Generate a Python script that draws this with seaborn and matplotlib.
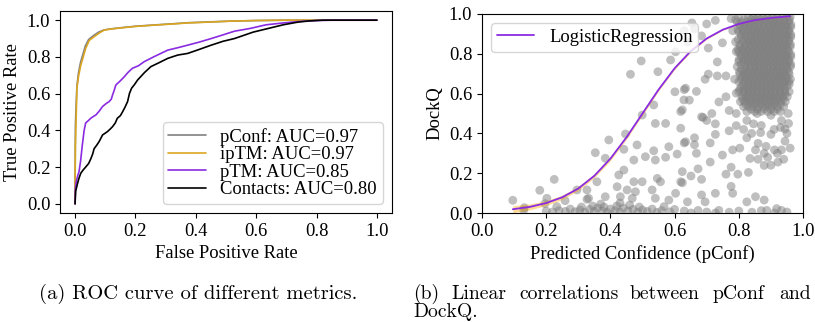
import matplotlib
matplotlib.use("Agg")
import matplotlib.pyplot as plt
import seaborn as sns
import pandas as pd

# ---------------- ROC data ----------------
pconf_fpr = [0, 0.0, 0.001, 0.003, 0.006, 0.011, 0.018, 0.026, 0.034, 0.045, 0.06, 0.078, 0.096, 0.12, 0.152, 0.2, 0.262, 0.32, 0.372, 0.45, 0.517, 0.6, 0.7, 0.8, 1.0]
pconf_tpr = [0, 0.12, 0.42, 0.52, 0.64, 0.71, 0.77, 0.815, 0.86, 0.895, 0.915, 0.935, 0.947, 0.953, 0.959, 0.967, 0.974, 0.98, 0.986, 0.991, 0.995, 0.998, 1.0, 1.0, 1.0]
iptm_fpr = [0, 0.0, 0.001, 0.004, 0.006, 0.012, 0.019, 0.027, 0.035, 0.047, 0.063, 0.08, 0.096, 0.12, 0.152, 0.2, 0.262, 0.32, 0.372, 0.45, 0.517, 0.6, 0.7, 0.8, 1.0]
iptm_tpr = [0, 0.10, 0.32, 0.5, 0.63, 0.70, 0.755, 0.80, 0.846, 0.89, 0.91, 0.93, 0.946, 0.952, 0.958, 0.966, 0.973, 0.979, 0.985, 0.99, 0.995, 0.998, 1.0, 1.0, 1.0]
ptm_fpr = [0, 0.001, 0.004, 0.008, 0.013, 0.018, 0.024, 0.03, 0.035, 0.045, 0.052, 0.06, 0.069, 0.08, 0.091, 0.102, 0.113, 0.12, 0.124, 0.13, 0.135, 0.15, 0.163, 0.175, 0.19, 0.21, 0.229, 0.26, 0.307, 0.34, 0.373, 0.41, 0.451, 0.49, 0.528, 0.58, 0.633, 0.69, 0.744, 0.8, 0.85, 1.0]
ptm_tpr = [0, 0.08, 0.12, 0.15, 0.175, 0.23, 0.32, 0.40, 0.44, 0.455, 0.466, 0.475, 0.484, 0.505, 0.53, 0.545, 0.557, 0.57, 0.592, 0.62, 0.647, 0.67, 0.692, 0.715, 0.738, 0.752, 0.774, 0.80, 0.837, 0.85, 0.864, 0.88, 0.90, 0.92, 0.94, 0.955, 0.975, 0.985, 0.993, 0.998, 1.0, 1.0]
cont_fpr = [0, 0.001, 0.002, 0.005, 0.008, 0.013, 0.019, 0.027, 0.035, 0.045, 0.052, 0.058, 0.063, 0.072, 0.08, 0.091, 0.1, 0.107, 0.115, 0.124, 0.133, 0.14, 0.15, 0.157, 0.165, 0.174, 0.18, 0.187, 0.197, 0.207, 0.23, 0.251, 0.28, 0.307, 0.34, 0.373, 0.41, 0.451, 0.49, 0.528, 0.59, 0.64, 0.69, 0.74, 0.777, 0.82, 1.0]
cont_tpr = [0, 0.04, 0.07, 0.09, 0.11, 0.14, 0.167, 0.185, 0.20, 0.22, 0.245, 0.27, 0.30, 0.32, 0.34, 0.375, 0.385, 0.393, 0.405, 0.42, 0.44, 0.466, 0.48, 0.50, 0.525, 0.557, 0.60, 0.629, 0.65, 0.674, 0.715, 0.747, 0.77, 0.792, 0.81, 0.819, 0.84, 0.864, 0.885, 0.90, 0.935, 0.955, 0.975, 0.99, 0.996, 1.0, 1.0]
roc_labels = ["pConf: AUC=0.97", "ipTM: AUC=0.97", "pTM: AUC=0.85", "Contacts: AUC=0.80"]
roc_colors = ["gray", "goldenrod", "blueviolet", "black"]

# ---------------- Scatter data ----------------
scatter_pts = [
    (0.096, 0.064), (0.132, 0.027), (0.13, 0.015), (0.18, 0.114), (0.225, 0.169), (0.202, 0.074),
    (0.233, 0.032), (0.259, 0.062), (0.296, 0.116), (0.327, 0.069), (0.196, 0.047),
    (0.20, 0.01), (0.22, 0.005), (0.24, 0.012), (0.26, 0.008), (0.275, 0.02), (0.29, 0.006), (0.305, 0.015),
    (0.32, 0.004), (0.335, 0.018), (0.35, 0.008), (0.36, 0.025), (0.375, 0.01), (0.39, 0.003), (0.40, 0.02),
    (0.415, 0.012), (0.43, 0.005), (0.44, 0.025), (0.455, 0.01), (0.47, 0.018), (0.485, 0.004), (0.50, 0.015),
    (0.515, 0.008), (0.53, 0.02), (0.545, 0.003), (0.56, 0.012), (0.585, 0.006), (0.60, 0.018), (0.63, 0.01),
    (0.651, 0.0), (0.673, 0.013), (0.70, 0.005), (0.727, 0.0), (0.738, 0.013), (0.77, 0.004), (0.80, 0.01),
    (0.841, 0.004), (0.87, 0.012), (0.887, 0.013), (0.911, 0.0), (0.918, 0.022), (0.933, 0.013), (0.95, 0.005),
    (0.31, 0.03), (0.345, 0.035), (0.38, 0.03), (0.42, 0.035), (0.46, 0.04), (0.49, 0.03), (0.37, 0.045), (0.43, 0.05),
    (0.499, 0.492), (0.54, 0.45), (0.572, 0.45), (0.619, 0.426), (0.619, 0.51), (0.447, 0.397), (0.395, 0.367),
    (0.353, 0.303), (0.483, 0.342), (0.442, 0.32), (0.384, 0.275), (0.473, 0.266), (0.535, 0.313), (0.509, 0.283),
    (0.572, 0.28), (0.582, 0.333), (0.608, 0.296), (0.634, 0.358), (0.54, 0.266), (0.442, 0.216), (0.426, 0.191),
    (0.499, 0.157), (0.473, 0.157), (0.556, 0.157), (0.546, 0.174), (0.358, 0.157), (0.327, 0.116), (0.332, 0.074),
    (0.384, 0.082), (0.421, 0.132), (0.452, 0.116), (0.478, 0.107), (0.431, 0.082), (0.468, 0.074), (0.53, 0.116),
    (0.54, 0.074), (0.582, 0.065), (0.603, 0.099), (0.619, 0.157), (0.624, 0.208), (0.567, 0.032),
    (0.4625, 0.697), (0.496, 0.764), (0.548, 0.71), (0.5875, 0.769), (0.603, 0.81), (0.601, 0.609), (0.629, 0.568),
    (0.634, 0.627), (0.624, 0.518), (0.535, 0.543), (0.64, 0.86), (0.654, 0.955),
    (0.63, 0.916), (0.662, 0.925), (0.684, 0.89), (0.70, 0.95), (0.727, 0.968), (0.705, 0.829), (0.749, 0.855),
    (0.733, 0.759), (0.705, 0.698), (0.733, 0.689), (0.76, 0.689), (0.695, 0.672), (0.63, 0.62), (0.668, 0.611),
    (0.646, 0.567), (0.76, 0.584), (0.77, 0.515), (0.738, 0.558), (0.689, 0.48), (0.781, 0.916), (0.776, 0.977),
    (0.792, 0.811), (0.787, 0.672), (0.792, 0.602),
    (0.716, 0.5), (0.70, 0.465), (0.727, 0.448), (0.684, 0.483), (0.792, 0.5), (0.825, 0.465), (0.792, 0.439),
    (0.846, 0.448), (0.857, 0.5), (0.90, 0.491), (0.933, 0.465), (0.954, 0.5), (0.944, 0.422), (0.90, 0.395),
    (0.868, 0.404), (0.825, 0.378), (0.77, 0.413), (0.727, 0.395), (0.662, 0.378), (0.63, 0.352), (0.662, 0.343),
    (0.668, 0.30), (0.711, 0.352), (0.749, 0.291), (0.781, 0.317), (0.803, 0.326), (0.835, 0.274), (0.852, 0.317),
    (0.879, 0.30), (0.885, 0.335), (0.911, 0.317), (0.933, 0.317), (0.96, 0.326), (0.944, 0.361), (0.922, 0.256),
    (0.879, 0.239), (0.83, 0.204), (0.797, 0.195), (0.76, 0.195), (0.776, 0.23), (0.711, 0.256), (0.673, 0.222),
    (0.651, 0.186), (0.684, 0.169), (0.624, 0.152), (0.776, 0.134), (0.781, 0.099), (0.727, 0.099), (0.684, 0.091),
    (0.695, 0.056), (0.64, 0.056), (0.852, 0.082), (0.825, 0.056), (0.879, 0.065),
    (0.92, 0.30), (0.89, 0.28), (0.86, 0.35), (0.91, 0.42), (0.93, 0.43), (0.87, 0.44), (0.815, 0.42),
    (0.84, 0.40), (0.95, 0.40), (0.955, 0.45), (0.86, 0.27), (0.90, 0.24), (0.94, 0.27),
]
# dense cluster of high-confidence models: rows of (DockQ, [pConf ...])
cluster_rows = [
    (0.985, [0.80, 0.83, 0.845, 0.86, 0.875, 0.89, 0.905, 0.92, 0.935, 0.95, 0.96]),
    (0.972, [0.79, 0.817, 0.838, 0.852, 0.867, 0.882, 0.897, 0.912, 0.927, 0.942, 0.957]),
    (0.96, [0.795, 0.81, 0.825, 0.84, 0.855, 0.87, 0.885, 0.90, 0.912, 0.926, 0.94, 0.955]),
    (0.947, [0.802, 0.817, 0.832, 0.847, 0.862, 0.877, 0.892, 0.906, 0.919, 0.933, 0.947, 0.962]),
    (0.935, [0.805, 0.82, 0.834, 0.848, 0.862, 0.877, 0.892, 0.906, 0.92, 0.934, 0.948, 0.962]),
    (0.922, [0.797, 0.812, 0.827, 0.841, 0.855, 0.869, 0.884, 0.899, 0.913, 0.927, 0.941, 0.955]),
    (0.91, [0.80, 0.815, 0.83, 0.845, 0.858, 0.872, 0.886, 0.90, 0.914, 0.928, 0.942, 0.956]),
    (0.897, [0.807, 0.822, 0.837, 0.851, 0.865, 0.879, 0.893, 0.907, 0.921, 0.935, 0.949, 0.962]),
    (0.885, [0.808, 0.822, 0.837, 0.85, 0.865, 0.879, 0.893, 0.907, 0.921, 0.935, 0.949, 0.962]),
    (0.872, [0.798, 0.815, 0.83, 0.843, 0.858, 0.872, 0.886, 0.90, 0.914, 0.928, 0.942, 0.956]),
    (0.86, [0.79, 0.813, 0.828, 0.842, 0.856, 0.87, 0.884, 0.898, 0.912, 0.926, 0.94, 0.955]),
    (0.847, [0.803, 0.82, 0.835, 0.849, 0.863, 0.877, 0.891, 0.905, 0.919, 0.933, 0.947, 0.961]),
    (0.835, [0.805, 0.82, 0.835, 0.849, 0.863, 0.877, 0.891, 0.905, 0.919, 0.933, 0.947, 0.96]),
    (0.822, [0.797, 0.812, 0.826, 0.84, 0.854, 0.868, 0.882, 0.896, 0.91, 0.924, 0.938, 0.952]),
    (0.81, [0.80, 0.814, 0.829, 0.843, 0.857, 0.871, 0.885, 0.899, 0.913, 0.927, 0.941, 0.955]),
    (0.797, [0.806, 0.821, 0.836, 0.85, 0.864, 0.878, 0.892, 0.906, 0.92, 0.934, 0.948, 0.962]),
    (0.785, [0.808, 0.822, 0.836, 0.85, 0.864, 0.878, 0.892, 0.906, 0.92, 0.934, 0.948, 0.962]),
    (0.772, [0.801, 0.815, 0.829, 0.843, 0.857, 0.871, 0.885, 0.899, 0.913, 0.927, 0.941, 0.955]),
    (0.76, [0.80, 0.815, 0.83, 0.844, 0.858, 0.872, 0.886, 0.90, 0.914, 0.928, 0.942, 0.956]),
    (0.747, [0.807, 0.822, 0.837, 0.851, 0.865, 0.879, 0.893, 0.907, 0.921, 0.935, 0.949, 0.962]),
    (0.735, [0.795, 0.82, 0.836, 0.85, 0.864, 0.878, 0.892, 0.906, 0.92, 0.934, 0.948, 0.961]),
    (0.722, [0.809, 0.823, 0.837, 0.851, 0.865, 0.879, 0.893, 0.907, 0.921, 0.935, 0.95]),
    (0.71, [0.802, 0.816, 0.83, 0.844, 0.858, 0.872, 0.886, 0.90, 0.914, 0.928, 0.942, 0.955]),
    (0.697, [0.803, 0.817, 0.831, 0.845, 0.859, 0.873, 0.887, 0.901, 0.915, 0.929, 0.943, 0.957]),
    (0.685, [0.81, 0.823, 0.837, 0.851, 0.865, 0.879, 0.893, 0.907, 0.921, 0.935, 0.949]),
    (0.672, [0.807, 0.822, 0.836, 0.85, 0.864, 0.878, 0.892, 0.906, 0.92, 0.934, 0.948, 0.961]),
    (0.66, [0.80, 0.816, 0.83, 0.844, 0.858, 0.872, 0.886, 0.90, 0.914, 0.928, 0.942, 0.956]),
    (0.647, [0.814, 0.83, 0.844, 0.858, 0.872, 0.886, 0.90, 0.914, 0.928, 0.942, 0.957]),
    (0.635, [0.808, 0.823, 0.837, 0.851, 0.865, 0.879, 0.893, 0.907, 0.921, 0.935, 0.95]),
    (0.622, [0.803, 0.816, 0.83, 0.844, 0.858, 0.872, 0.886, 0.90, 0.914, 0.928, 0.943]),
    (0.61, [0.80, 0.816, 0.83, 0.844, 0.858, 0.872, 0.886, 0.90, 0.914, 0.928, 0.943, 0.957]),
    (0.597, [0.817, 0.831, 0.845, 0.859, 0.873, 0.887, 0.901, 0.915, 0.929, 0.944]),
    (0.585, [0.81, 0.824, 0.838, 0.852, 0.866, 0.88, 0.894, 0.908, 0.922, 0.937, 0.951]),
    (0.572, [0.812, 0.826, 0.84, 0.854, 0.868, 0.882, 0.896, 0.91, 0.924, 0.938]),
    (0.56, [0.805, 0.818, 0.832, 0.846, 0.86, 0.874, 0.888, 0.902, 0.916, 0.93, 0.945]),
    (0.547, [0.822, 0.838, 0.853, 0.868, 0.882, 0.897, 0.912, 0.93]),
    (0.535, [0.815, 0.83, 0.845, 0.86, 0.875, 0.89, 0.905, 0.92, 0.94]),
    (0.522, [0.838, 0.858, 0.88, 0.9, 0.92]),
    (0.51, [0.825, 0.85, 0.87, 0.89, 0.91, 0.93]),
]
# fitted logistic regression curve and its confidence band half-width
fit_x = [0.096, 0.15, 0.2, 0.25, 0.3, 0.35, 0.4, 0.45, 0.5, 0.55, 0.6, 0.65, 0.7, 0.75, 0.8, 0.85, 0.9, 0.96]
fit_y = [0.019, 0.031, 0.050, 0.079, 0.123, 0.187, 0.273, 0.380, 0.500, 0.620, 0.727, 0.813, 0.877, 0.921, 0.950, 0.969, 0.980, 0.989]
fit_band = [0.018, 0.015, 0.012, 0.011, 0.010, 0.010, 0.010, 0.009, 0.008, 0.007, 0.006, 0.005, 0.004, 0.003, 0.002, 0.002, 0.002, 0.002]
ticks = [0.0, 0.2, 0.4, 0.6, 0.8, 1.0]

# ---------------- style ----------------
sns.set_style("ticks")
plt.rcParams.update({
    "font.family": ["Liberation Serif", "DejaVu Serif"],
    "axes.edgecolor": "black", "axes.labelcolor": "black", "text.color": "black",
    "xtick.color": "black", "ytick.color": "black",
    "axes.linewidth": 0.8, "xtick.major.width": 0.8, "ytick.major.width": 0.8,
    "xtick.major.size": 3.5, "ytick.major.size": 3.5,
    "axes.facecolor": "white", "figure.facecolor": "white",
})
FS = 13.4

W, H = 815, 322
fig = plt.figure(figsize=(W / 100, H / 100), dpi=100)
ax1 = fig.add_axes([60 / W, 1 - 213 / H, 332 / W, 202 / H])
ax2 = fig.add_axes([482 / W, 1 - 213 / H, 321 / W, 199 / H])

# ---------------- (a) ROC ----------------
roc = [(pconf_fpr, pconf_tpr), (iptm_fpr, iptm_tpr), (ptm_fpr, ptm_tpr), (cont_fpr, cont_tpr)]
for (fx, fy), lab, col in zip(roc, roc_labels, roc_colors):
    sns.lineplot(x=fx, y=fy, ax=ax1, color=col, label=lab, linewidth=1.2,
                 estimator=None, sort=False)
ax1.set_xticks(ticks)
ax1.set_yticks(ticks)
ax1.set_xlabel("False Positive Rate", fontsize=FS)
ax1.set_ylabel("True Positive Rate", fontsize=FS)
ax1.tick_params(labelsize=FS)
ax1.legend(loc="lower right", fontsize=FS, labelspacing=0.02, handlelength=2.0,
           handletextpad=0.8, borderpad=0.3)

# ---------------- (b) scatter + logistic fit ----------------
sx = [p[0] for p in scatter_pts]
sy = [p[1] for p in scatter_pts]
for yv, xs in cluster_rows:
    sx += xs
    sy += [yv] * len(xs)
df = pd.DataFrame({"pConf": sx, "DockQ": sy})
sns.scatterplot(data=df, x="pConf", y="DockQ", ax=ax2, color="gray", alpha=0.5,
                s=40, edgecolor="none", linewidth=0, legend=False)
lo = [a - b for a, b in zip(fit_y, fit_band)]
hi = [a + b for a, b in zip(fit_y, fit_band)]
ax2.fill_between(fit_x, lo, hi, color="orange", alpha=0.4, linewidth=0)
sns.lineplot(x=fit_x, y=fit_y, ax=ax2, color="blueviolet", linewidth=1.3,
             label="LogisticRegression", estimator=None, sort=False)
ax2.set_xlim(0, 1)
ax2.set_ylim(0, 1)
ax2.set_xticks(ticks)
ax2.set_yticks(ticks)
ax2.set_xlabel("Predicted Confidence (pConf)", fontsize=FS)
ax2.set_ylabel("DockQ", fontsize=FS)
ax2.tick_params(labelsize=FS)
ax2.legend(loc="upper left", fontsize=FS, handlelength=2.0, handletextpad=0.8, borderpad=0.3)

# ---------------- captions ----------------
CFS = 14.2
cap_font = ["cmr10", "DejaVu Serif"]
fig.text(39 / W, 1 - 299 / H, "(a) ROC curve of different metrics.", fontsize=14.8,
         family=cap_font, va="baseline", ha="left")
cap_b_words = ["(b)", "Linear", "correlations", "between", "pConf", "and"]
cap_b_x = [413, 451, 519, 630, 713, 779]
for wd, xp in zip(cap_b_words, cap_b_x):
    fig.text(xp / W, 1 - 299 / H, wd, fontsize=CFS, family=cap_font, va="baseline", ha="left")
fig.text(413 / W, 1 - 317 / H, "DockQ.", fontsize=CFS, family=cap_font, va="baseline", ha="left")

fig.savefig("out.png", dpi=100)
